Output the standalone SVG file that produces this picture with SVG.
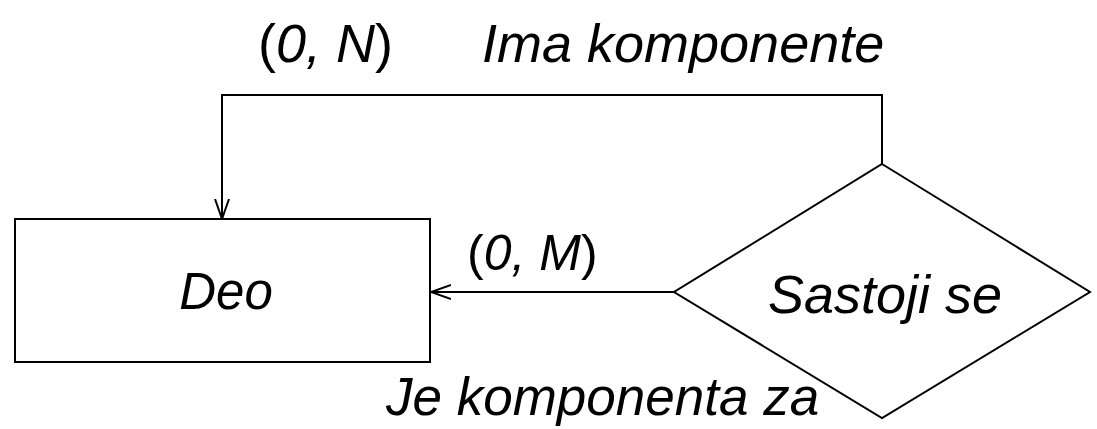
<svg xmlns="http://www.w3.org/2000/svg" width="1097" height="429" viewBox="0 0 1097 429">
<style>
.shape{fill:#fff;stroke:#000;stroke-width:2}
.conn{fill:none;stroke:#000;stroke-width:2}
text{font-family:"Liberation Sans",Arial,sans-serif;font-size:54px;fill:#000}
.it{font-style:italic}
</style>
<defs>
<marker id="arr" viewBox="0 0 20 20" refX="20" refY="10" markerWidth="20" markerHeight="20" markerUnits="userSpaceOnUse" orient="auto">
<path d="M0,3 L20,10 L0,17" fill="none" stroke="#000" stroke-width="2"/>
</marker>
</defs>
<g id="connectors">
<polyline class="conn" points="882,164 882,95 222,95 222,219" marker-end="url(#arr)"/>
<line class="conn" x1="674" y1="292" x2="431" y2="292" marker-end="url(#arr)"/>
</g>
<g id="deo">
<rect class="shape" x="15" y="219" width="415" height="143"/>
<text class="it" x="226" y="309" text-anchor="middle" style="font-size:51px">Deo</text>
</g>
<g id="sastoji">
<polygon class="shape" points="882,164 1090,292 882,418 674,292"/>
<text class="it" x="885" y="313" text-anchor="middle">Sastoji se</text>
</g>
<g id="labels">
<text x="258" y="62">(<tspan class="it">0, N</tspan>)</text>
<text class="it" x="482" y="62">Ima komponente</text>
<text x="467" y="270" style="font-size:50px">(<tspan class="it">0, M</tspan>)</text>
<text class="it" x="386" y="415" style="font-size:53px">Je komponenta za</text>
</g>
</svg>
